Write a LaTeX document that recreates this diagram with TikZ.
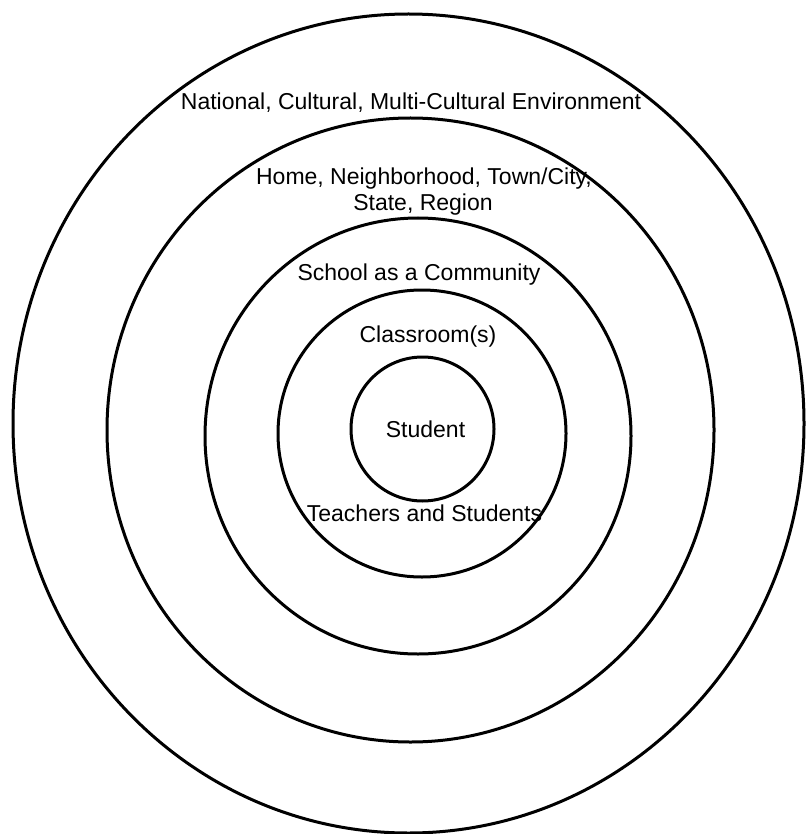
\documentclass[tikz,border=0pt]{standalone}
\usepackage{fontspec}
\setmainfont{Liberation Sans}
\begin{document}
\begin{tikzpicture}[x=1pt,y=-1pt,
  ring/.style={draw=black,line width=3pt},
  lbl/.style={anchor=base,inner sep=0pt,font=\fontsize{23}{26}\selectfont}]
\useasboundingbox[fill=white] (0,0) rectangle (806,834);
% rings
\draw[ring] (408.5,423.5) ellipse [x radius=395.5, y radius=409.5];
\draw[ring] (410.5,430) ellipse [x radius=303.5, y radius=312];
\draw[ring] (418,436) ellipse [x radius=213, y radius=218];
\draw[ring] (422,433.5) ellipse [x radius=144, y radius=143.5];
\draw[ring] (422.5,429) ellipse [x radius=71.5, y radius=72];
% labels
\node[lbl] (national) at (411,110) {National, Cultural, Multi-Cultural Environment};
\node[lbl] (home1) at (424,185) {Home, Neighborhood, Town/City,};
\node[lbl] (home2) at (423,211) {State, Region};
\node[lbl] (school) at (419,280) {School as a Community};
\node[lbl] (classroom) at (428,342) {Classroom(s)};
\node[lbl] (student) at (425.5,437) {Student};
\node[lbl] (teachers) at (424.5,521) {Teachers and Students};
\end{tikzpicture}
\end{document}
